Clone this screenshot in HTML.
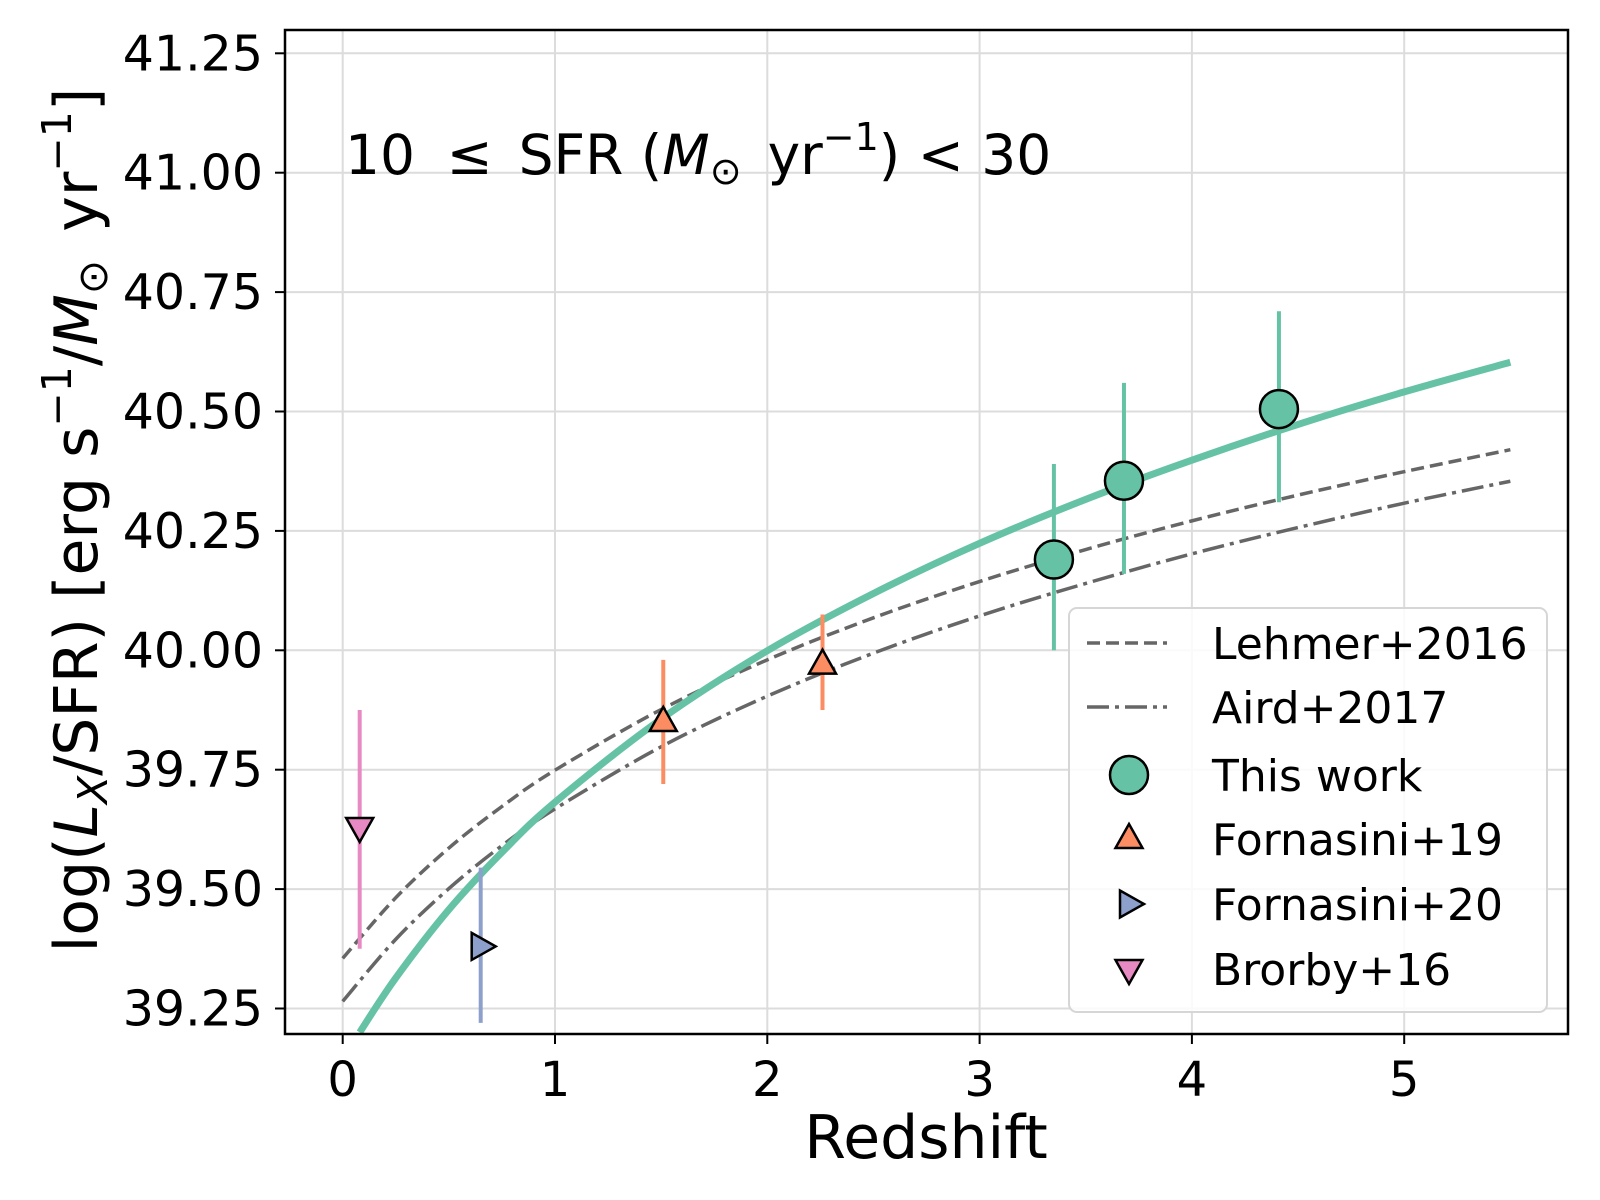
<!DOCTYPE html>
<html><head><meta charset="utf-8"><style>
html,body{margin:0;padding:0;background:#fff;}
svg{display:block;font-family:"DejaVu Sans","Liberation Sans",sans-serif;}
</style></head><body>
<svg id="chart" width="1600" height="1200" viewBox="0 0 1600 1200" xmlns="http://www.w3.org/2000/svg">
<rect width="1600" height="1200" fill="#fff"/>
<g id="grid"></g>
<g id="series"></g>
<rect x="285" y="30" width="1283" height="1004" fill="none" stroke="#000" stroke-width="2.5"/>
<g id="ticks"></g>
<text x="345" y="174" font-size="55">10 <tspan dx="14">≤</tspan><tspan dx="26">SFR (</tspan><tspan font-style="italic">M</tspan><tspan font-size="38" dy="10">⊙</tspan><tspan dy="-10" dx="26">yr</tspan><tspan font-size="38" dy="-24">−1</tspan><tspan dy="24">) &lt; 30</tspan></text>
<text x="926" y="1158" font-size="60" text-anchor="middle">Redshift</text>
<text transform="translate(97,520) rotate(-90)" font-size="60" text-anchor="middle">log(<tspan font-style="italic">L</tspan><tspan font-size="41" font-style="italic" dy="10">X</tspan><tspan dy="-10">/SFR) [erg s</tspan><tspan font-size="41" dy="-26">−1</tspan><tspan dy="26">/</tspan><tspan font-style="italic">M</tspan><tspan font-size="41" dy="10">⊙</tspan><tspan dy="-10" dx="28">yr</tspan><tspan font-size="41" dy="-26">−1</tspan><tspan dy="26">]</tspan></text>
<g id="legend"></g>
</svg>
<script>
const xTicks=[0,1,2,3,4,5];
const yTicks=[39.25,39.5,39.75,40.0,40.25,40.5,40.75,41.0,41.25];
const yTickLabels=["39.25","39.50","39.75","40.00","40.25","40.50","40.75","41.00","41.25"];
const modelZ=[0,0.25,0.5,0.75,1,1.5,2,2.5,3,3.5,4,4.5,5,5.5];
const lehmerY=[39.355,39.482,39.586,39.673,39.749,39.876,39.980,40.068,40.144,40.211,40.271,40.325,40.374,40.420];
const airdY=[39.265,39.395,39.501,39.591,39.668,39.798,39.904,39.994,40.072,40.140,40.202,40.257,40.308,40.354];
const fitZ=[0.08,0.25,0.5,0.75,1,1.5,2,2.5,3,3.5,4,4.5,5,5.5];
const fitY=[39.200,39.314,39.457,39.577,39.682,39.856,39.999,40.119,40.224,40.316,40.398,40.473,40.541,40.603];
const thisZ=[3.35,3.68,4.41], thisY=[40.19,40.355,40.505], thisLo=[40.0,40.16,40.31], thisHi=[40.39,40.56,40.71];
const f19Z=[1.51,2.26], f19Y=[39.85,39.97], f19Lo=[39.72,39.875], f19Hi=[39.98,40.075];
const f20Z=[0.65], f20Y=[39.38], f20Lo=[39.22], f20Hi=[39.545];
const brZ=[0.08], brY=[39.63], brLo=[39.375], brHi=[39.875];

const X0=285,X1=1568,Y0=30,Y1=1034;
const xs=z=>342.7+z*212.3;
const ys=v=>53.3+(41.25-v)*477.6;
const NS="http://www.w3.org/2000/svg";
function mk(tag,parent,attrs){const e=document.createElementNS(NS,tag);for(const k in attrs)e.setAttribute(k,attrs[k]);parent.appendChild(e);return e;}
const grid=document.getElementById('grid'),ticks=document.getElementById('ticks'),ser=document.getElementById('series'),leg=document.getElementById('legend');
xTicks.forEach(t=>{const x=xs(t);
 const g=mk('line',grid,{x1:x,x2:x,y1:Y0,y2:Y1,stroke:'#dcdcdc','stroke-width':2});
 
 
 const tk=mk('line',ticks,{x1:x,x2:x,y1:Y1,y2:Y1+10,stroke:'#000','stroke-width':2});
 
 
 const tl=mk('text',ticks,{x:x,y:Y1+62,'font-size':48,'text-anchor':'middle'});tl.textContent=String(t);
 
 
});
yTicks.forEach((t,i)=>{const y=ys(t);
 const g=mk('line',grid,{x1:X0,x2:X1,y1:y,y2:y,stroke:'#dcdcdc','stroke-width':2});
 
 
 const tk=mk('line',ticks,{x1:X0-10,x2:X0,y1:y,y2:y,stroke:'#000','stroke-width':2});
 
 
 const tl=mk('text',ticks,{x:X0-22,y:y+17,'font-size':49,'text-anchor':'end'});tl.textContent=yTickLabels[i];
 
 
});
const cp=mk('clipPath',document.getElementById('chart'),{id:'clip'});
mk('rect',cp,{x:X0,y:Y0,width:X1-X0,height:Y1-Y0});
ser.setAttribute('clip-path','url(#clip)');
function smooth(zs,vs){const p=zs.map((z,i)=>[xs(z),ys(vs[i])]);let d=`M${p[0][0]},${p[0][1]}`;
 for(let i=0;i<p.length-1;i++){const a=p[Math.max(0,i-1)],b=p[i],c=p[i+1],e=p[Math.min(p.length-1,i+2)];
 d+=` C${b[0]+(c[0]-a[0])/6},${b[1]+(c[1]-a[1])/6} ${c[0]-(e[0]-b[0])/6},${c[1]-(e[1]-b[1])/6} ${c[0]},${c[1]}`;}return d;}
const l1=mk('path',ser,{d:smooth(modelZ,lehmerY),fill:'none',stroke:'#666','stroke-width':3.5,'stroke-dasharray':'13,6'});


const l2=mk('path',ser,{d:smooth(modelZ,airdY),fill:'none',stroke:'#666','stroke-width':3.5,'stroke-dasharray':'22,6,4,6'});


const l3=mk('path',ser,{d:smooth(fitZ,fitY),fill:'none',stroke:'#66c2a5','stroke-width':7});


function marker(parent,shape,cx,cy,color,s){
 let e;
 if(shape==='o') e=mk('circle',parent,{cx:cx,cy:cy,r:s,fill:color,stroke:'#000','stroke-width':2.5});
 else{let pts;
  if(shape==='^')pts=[[0,-s],[s*0.9,s*0.6],[-s*0.9,s*0.6]];
  else if(shape==='v')pts=[[0,s],[s*0.9,-s*0.6],[-s*0.9,-s*0.6]];
  else pts=[[s,0],[-s*0.6,s*0.9],[-s*0.6,-s*0.9]];
  e=mk('polygon',parent,{points:pts.map(q=>(cx+q[0])+','+(cy+q[1])).join(' '),fill:color,stroke:'#000','stroke-width':2.5,'stroke-linejoin':'miter'});}
 return e;}
function pts(zs,vs,lo,hi,color,shape,s,name){zs.forEach((z,i)=>{
 const eb=mk('line',ser,{x1:xs(z),x2:xs(z),y1:ys(lo[i]),y2:ys(hi[i]),stroke:color,'stroke-width':4});
 
 
 const m=marker(ser,shape,xs(z),ys(vs[i]),color,s);
 
 
});}
pts(thisZ,thisY,thisLo,thisHi,'#66c2a5','o',19,'this-work');
pts(f19Z,f19Y,f19Lo,f19Hi,'#fc8d62','^',15,'fornasini19');
pts(f20Z,f20Y,f20Lo,f20Hi,'#8da0cb','>',15,'fornasini20');
pts(brZ,brY,brLo,brHi,'#e78ac3','v',15,'brorby16');
const box=mk('rect',leg,{x:1069,y:608,width:478,height:404,rx:8,fill:'#fff','fill-opacity':0.85,stroke:'#d6d6d6','stroke-width':2});


const legLabels=["Lehmer+2016","Aird+2017","This work","Fornasini+19","Fornasini+20","Brorby+16"];
const legRows=[643,707,775,839,904,969];
legLabels.forEach((lab,i)=>{const y=legRows[i];
 let h;
 if(i===0)h=mk('line',leg,{x1:1087,x2:1167,y1:y,y2:y,stroke:'#666','stroke-width':3.5,'stroke-dasharray':'13,6'});
 else if(i===1)h=mk('line',leg,{x1:1087,x2:1167,y1:y,y2:y,stroke:'#666','stroke-width':3.5,'stroke-dasharray':'22,6,4,6'});
 else if(i===2)h=marker(leg,'o',1129,y,'#66c2a5',19);
 else if(i===3)h=marker(leg,'^',1129,y,'#fc8d62',15);
 else if(i===4)h=marker(leg,'>',1129,y,'#8da0cb',15);
 else h=marker(leg,'v',1129,y,'#e78ac3',15);
 
 
 const t=mk('text',leg,{x:1212,y:y+16,'font-size':44});t.textContent=lab;
 
 
});
</script>
</body></html>
